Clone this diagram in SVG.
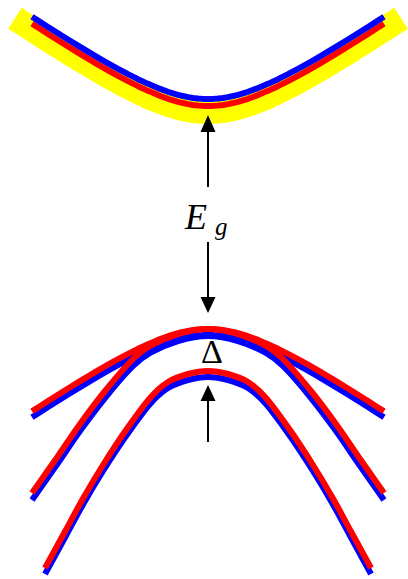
<svg xmlns="http://www.w3.org/2000/svg" xmlns:xlink="http://www.w3.org/1999/xlink" width="408" height="579" viewBox="0 0 408 579">
<style>
.b{fill:none;stroke:#0000ff;stroke-width:6;stroke-linejoin:round}
.r{fill:none;stroke:#ff0000;stroke-width:6;stroke-linejoin:round}
.y{fill:none;stroke:#ffff00;stroke-width:25;stroke-linejoin:round}
.ar{stroke:#000;stroke-width:2;fill:none}
.ah{fill:#000}
.t{font-family:"Liberation Serif","Times New Roman",serif;fill:#000}
</style>
<defs>
<path id="W" d="M-176,82.29 L-170,78.44 -160,72.06 -150,65.74 -140,59.51 -130,53.37 -120,47.33 -110,41.43 -100,35.69 -90,30.14 -80,24.83 -70,19.81 -60,15.14 -50,10.92 -40,7.23 -30,4.18 -25,2.94 -20,1.90 -15,1.08 -10,0.48 -5,0.12 0,0 5,0.12 10,0.48 15,1.08 20,1.90 25,2.94 30,4.18 40,7.23 50,10.92 60,15.14 70,19.81 80,24.83 90,30.14 100,35.69 110,41.43 120,47.33 130,53.37 140,59.51 150,65.74 160,72.06 170,78.44 176,82.29"/>
<path id="N" d="M-176,164 C-167.33,151.67 -158,138.5 -150,127 C-142,115.5 -135.83,105.83 -128,95 C-120.17,84.17 -111.67,72.67 -103,62 C-94.33,51.33 -83.5,38.5 -76,31 C-68.5,23.5 -65.67,21.33 -58,17 C-50.33,12.67 -39.67,7.83 -30,5 C-20.33,2.17 -10,0 0,0 C10,0 20.33,2.17 30,5 C39.67,7.83 50.33,12.67 58,17 C65.67,21.33 68.5,23.5 76,31 C83.5,38.5 94.33,51.33 103,62 C111.67,72.67 120.17,84.17 128,95 C135.83,105.83 142,115.5 150,127 C158,138.5 167.33,151.67 176,164"/>
<path id="S" d="M-163,197 C-156.33,184.92 -149.33,172.08 -143,160.5 C-136.67,148.92 -131.33,138.58 -125,127.5 C-118.67,116.42 -112,105.17 -105,94 C-98,82.83 -90.83,71.67 -83,60.5 C-75.17,49.33 -65.17,35.25 -58,27 C-50.83,18.75 -46.33,15 -40,11 C-33.67,7 -26.67,4.83 -20,3 C-13.33,1.17 -6.67,0 0,0 C6.67,0 13.33,1.17 20,3 C26.67,4.83 33.67,7 40,11 C46.33,15 50.83,18.75 58,27 C65.17,35.25 75.17,49.33 83,60.5 C90.83,71.67 98,82.83 105,94 C112,105.17 118.67,116.42 125,127.5 C131.33,138.58 136.67,148.92 143,160.5 C149.33,172.08 156.33,184.92 163,197"/>
</defs>
<g id="conduction-band">
<path class="y" transform="translate(208,111.5) scale(1,-1)" d="M-193,93.32 L-180,84.87 -170,78.44 -160,72.06 -150,65.74 -140,59.51 -130,53.37 -120,47.33 -110,41.43 -100,35.69 -90,30.14 -80,24.83 -70,19.81 -60,15.14 -50,10.92 -40,7.23 -30,4.18 -25,2.94 -20,1.90 -15,1.08 -10,0.48 -5,0.12 0,0 5,0.12 10,0.48 15,1.08 20,1.90 25,2.94 30,4.18 40,7.23 50,10.92 60,15.14 70,19.81 80,24.83 90,30.14 100,35.69 110,41.43 120,47.33 130,53.37 140,59.51 150,65.74 160,72.06 170,78.44 180,84.87 193,93.32"/>
<use href="#W" xlink:href="#W" class="r" transform="translate(208,106) scale(1,-1)"/>
<use href="#W" xlink:href="#W" class="b" transform="translate(208,99) scale(1,-1)"/>
</g>
<g id="valence-bands">
<use href="#W" xlink:href="#W" class="b" transform="translate(208,335)"/>
<use href="#N" xlink:href="#N" class="b" transform="translate(208,336)"/>
<use href="#S" xlink:href="#S" class="b" transform="translate(208,377)"/>
<use href="#W" xlink:href="#W" class="r" transform="translate(208,329)"/>
<use href="#N" xlink:href="#N" class="r" transform="translate(208,329)"/>
<use href="#S" xlink:href="#S" class="r" transform="translate(208,371)"/>
</g>
<g id="connectors">
<line class="ar" x1="208" y1="187" x2="208" y2="130"/>
<polygon class="ah" points="208,115 200.5,132 215.5,132"/>
<line class="ar" x1="208" y1="242" x2="208" y2="299"/>
<polygon class="ah" points="208,313 200.5,297 215.5,297"/>
<line class="ar" x1="208" y1="442" x2="208" y2="399"/>
<polygon class="ah" points="208,385 200.5,401 215.5,401"/>
</g>
<g id="label-eg">
<text class="t" x="185" y="229" font-size="36" font-style="italic">E</text>
<text class="t" x="215" y="235" font-size="25" font-style="italic">g</text>
</g>
<g id="label-delta">
<text class="t" x="212" y="363" font-size="34" text-anchor="middle">Δ</text>
</g>
</svg>
